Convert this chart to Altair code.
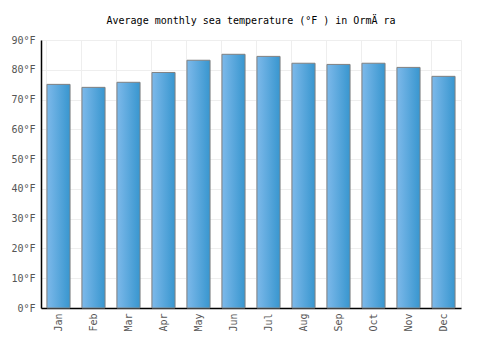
import altair as alt
import pandas as pd

months = ["Jan", "Feb", "Mar", "Apr", "May", "Jun", "Jul", "Aug", "Sep", "Oct", "Nov", "Dec"]
temps = [75.1, 74.1, 75.8, 79.1, 83.2, 85.2, 84.5, 82.2, 81.8, 82.2, 80.8, 77.8]

df = pd.DataFrame({"month": months, "temp": temps})

font = "DejaVu Sans Mono"

chart = alt.Chart(df).mark_bar(
    fill=alt.Gradient(
        gradient="linear",
        stops=[alt.GradientStop(color="#7db9ea", offset=0), alt.GradientStop(color="#3896cf", offset=1)],
        x1=0, x2=1, y1=0, y2=0,
    ),
    stroke="#808080",
    strokeWidth=1,
).encode(
    x=alt.X("month:N", sort=months, title=None,
            scale=alt.Scale(paddingInner=0.34, paddingOuter=0.17),
            axis=alt.Axis(labelAngle=-90, labelColor="#555555", labelFont=font, labelFontSize=10,
                          ticks=False, domainColor="#000000", domainWidth=1.5,
                          grid=True, gridColor="#eeeeee", bandPosition=0, labelPadding=5)),
    y=alt.Y("temp:Q", title=None,
            scale=alt.Scale(domain=[0, 90], nice=False),
            axis=alt.Axis(values=list(range(0, 91, 10)), labelExpr="datum.value + '°F'",
                          labelColor="#555555", labelFont=font, labelFontSize=10,
                          ticks=False, domainColor="#000000", domainWidth=1.5,
                          gridColor="#eeeeee", labelPadding=6)),
).properties(
    width=420,
    height=268,
    title=alt.TitleParams("Average monthly sea temperature (°F ) in OrmÄ ra", font=font,
                          fontSize=10, fontWeight="normal", color="#000000", offset=9),
    autosize=alt.AutoSizeParams(type="none"),
    padding={"left": 41, "top": 40, "right": 39, "bottom": 42},
).configure_view(stroke="#eeeeee")

chart.save("out.html", embed_options={"renderer": "svg", "actions": False})
